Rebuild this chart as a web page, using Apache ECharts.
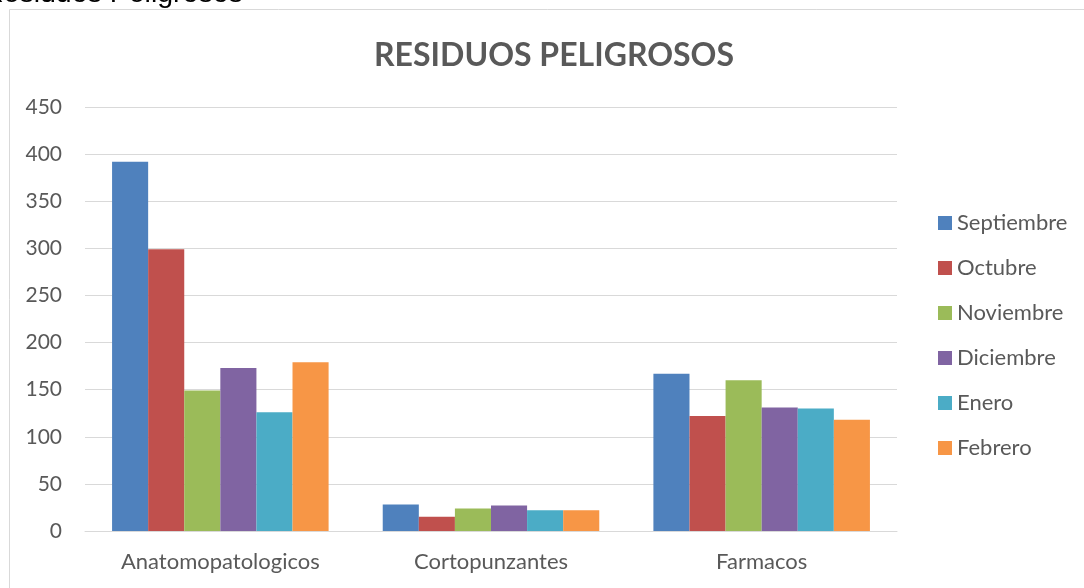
<!DOCTYPE html>
<html>
<head>
<meta charset="utf-8">
<script src="https://cdn.jsdelivr.net/npm/echarts@6/dist/echarts.min.js"></script>
<style>
html,body{margin:0;padding:0;background:#fff;}
#main{width:1084px;height:588px;}
</style>
</head>
<body>
<div id="main"></div>
<script>
var categories = ['Anatomopatologicos', 'Cortopunzantes', 'Farmacos'];
var seriesNames = ['Septiembre', 'Octubre', 'Noviembre', 'Diciembre', 'Enero', 'Febrero'];
var septiembre = [392, 28, 167];
var octubre = [299, 15, 122];
var noviembre = [149, 24, 160];
var diciembre = [173, 27, 131];
var enero = [126, 22, 130];
var febrero = [179, 22, 118];
var yTicks = [0, 50, 100, 150, 200, 250, 300, 350, 400, 450];
var colors = ['#4f81bd', '#c0504d', '#9bbb59', '#8064a2', '#4bacc6', '#f79646'];
var values = [septiembre, octubre, noviembre, diciembre, enero, febrero];

var font = 'Lato, "Open Sans", sans-serif';
var chart = echarts.init(document.getElementById('main'));
chart.setOption({
  animation: false,
  color: colors,
  graphic: [
    {type: 'rect', shape: {x: 9.5, y: 9.5, width: 1100, height: 600},
     style: {fill: 'none', stroke: '#d9d9d9', lineWidth: 1}, z: -1},
    {type: 'text', x: -17, y: -5.4,
     style: {text: 'Residuos Peligrosos', font: '28.5px "Liberation Sans", Arial, sans-serif',
             fill: '#000', verticalAlign: 'middle', align: 'left'}}
  ],
  title: {
    text: 'RESIDUOS PELIGROSOS',
    left: 549, top: 35, textAlign: 'center',
    textStyle: {fontFamily: font, fontWeight: 'bold', fontSize: 32, color: '#595959'}
  },
  legend: {
    orient: 'vertical', left: 938, top: 211, padding: 0,
    itemWidth: 14, itemHeight: 14, itemGap: 21,
    icon: 'rect',
    data: seriesNames,
    textStyle: {fontFamily: font, fontSize: 22, color: '#595959', lineHeight: 24, padding: [0,0,0,0]}
  },
  grid: {left: 85, right: 187, top: 107, bottom: 57},
  xAxis: {
    type: 'category', data: categories,
    axisLine: {lineStyle: {color: '#d9d9d9', width: 1}},
    axisTick: {show: false},
    axisLabel: {fontFamily: font, fontSize: 22, color: '#595959', margin: 20}
  },
  yAxis: {
    type: 'value', min: yTicks[0], max: yTicks[yTicks.length - 1], interval: 50,
    axisLine: {show: false}, axisTick: {show: false},
    splitLine: {lineStyle: {color: '#d9d9d9', width: 1}},
    axisLabel: {fontFamily: font, fontSize: 21, color: '#595959', margin: 23}
  },
  series: seriesNames.map(function (n, i) {
    return {name: n, type: 'bar', data: values[i], barGap: '0%', barCategoryGap: '20%'};
  })
});
</script>
</body>
</html>
